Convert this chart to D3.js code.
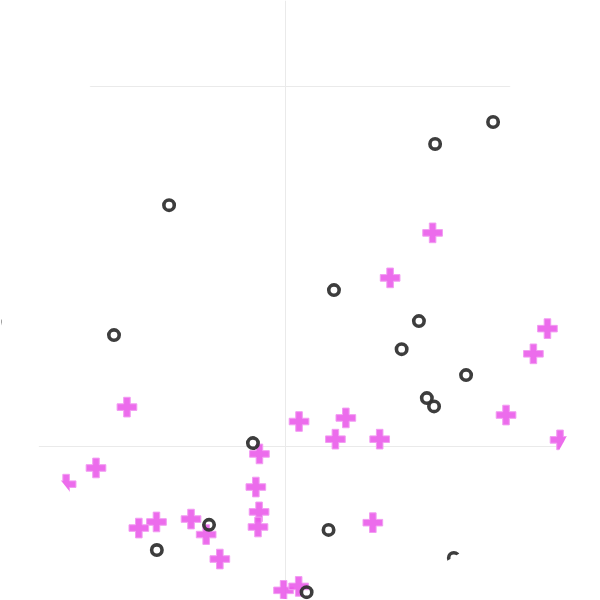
<!DOCTYPE html>
<html>
<head>
<meta charset="utf-8">
<script src="https://cdn.jsdelivr.net/npm/d3@7"></script>
<style>
  html, body { margin: 0; padding: 0; background: #fff; }
  svg { display: block; }
</style>
</head>
<body>
<svg id="chart" width="600" height="600"></svg>
<script>
// Data
const circleX = [5.78, 4.17, -3.22, 1.36, -4.75, 3.72, 3.24, 5.03, 3.94, 4.14, -0.89, -2.11, 1.21, -3.56, 0.60, 4.69, -8.06];
const circleY = [9.00, 8.39, 6.69, 4.33, 3.08, 3.47, 2.69, 1.97, 1.33, 1.10, 0.08, -2.19, -2.33, -2.89, -4.06, -3.11, 3.44];

const crossX = [4.10, 2.92, 7.29, 6.90, 6.14, -4.39, 0.39, 1.69, 1.40, 2.63, -0.71, 7.64, -5.25, -6.08, -0.81, -0.72, -0.75, -2.19, -2.61, -3.57, -4.06, -1.81, 2.44, -0.04, 0.38];
const crossY = [5.92, 4.67, 3.26, 2.56, 0.86, 1.08, 0.68, 0.78, 0.19, 0.19, -0.22, 0.17, -0.61, -1.06, -1.14, -1.83, -2.25, -2.46, -2.03, -2.11, -2.28, -3.14, -2.13, -4.01, -3.90];

const xDomain = [-7.9167, 8.75];
const yDomain = [-4.2778, 12.3889];
const xTicks = [-10, 0, 10];
const yTicks = [-10, 0, 10];

const W = 600, H = 600;
const svg = d3.select("#chart");

const x = d3.scaleLinear().domain(xDomain).range([0, W]);
const y = d3.scaleLinear().domain(yDomain).range([H, 0]);

const defs = svg.append("defs");
defs.append("clipPath").attr("id", "roundClip")
  .append("circle").attr("cx", W / 2).attr("cy", H / 2).attr("r", 299.5);

const g = svg.append("g").attr("clip-path", "url(#roundClip)");

// gridlines via axes
const xGrid = d3.axisBottom(x).tickValues(xTicks.filter(t => t >= xDomain[0] && t <= xDomain[1]))
  .tickSize(-H).tickFormat("");
const yGrid = d3.axisLeft(y).tickValues(yTicks.filter(t => t >= yDomain[0] && t <= yDomain[1]))
  .tickSize(-W).tickFormat("");

const gx = g.append("g").attr("transform", `translate(0,${H})`).call(xGrid);
const gy = g.append("g").call(yGrid);
[gx, gy].forEach(a => {
  a.select(".domain").remove();
  a.selectAll(".tick line").attr("stroke", "#eaeaea").attr("stroke-width", 1);
});

// crosses
const crossData = crossX.map((v, i) => [v, crossY[i]]);
g.append("g").selectAll("path").data(crossData).join("path")
  .attr("transform", d => `translate(${x(d[0])},${y(d[1])})`)
  .attr("d", d3.symbol().type(d3.symbolCross).size(215))
  .attr("fill", "#ea5cea")
  .attr("fill-opacity", 0.9)
  .attr("stroke", "#f29cf2")
  .attr("stroke-width", 1);

// circles
const circleData = circleX.map((v, i) => [v, circleY[i]]);
g.append("g").selectAll("circle").data(circleData).join("circle")
  .attr("cx", d => x(d[0]))
  .attr("cy", d => y(d[1]))
  .attr("r", 5.2)
  .attr("fill", "none")
  .attr("stroke", "#333")
  .attr("stroke-opacity", 0.95)
  .attr("stroke-width", 3.6);
</script>
</body>
</html>
